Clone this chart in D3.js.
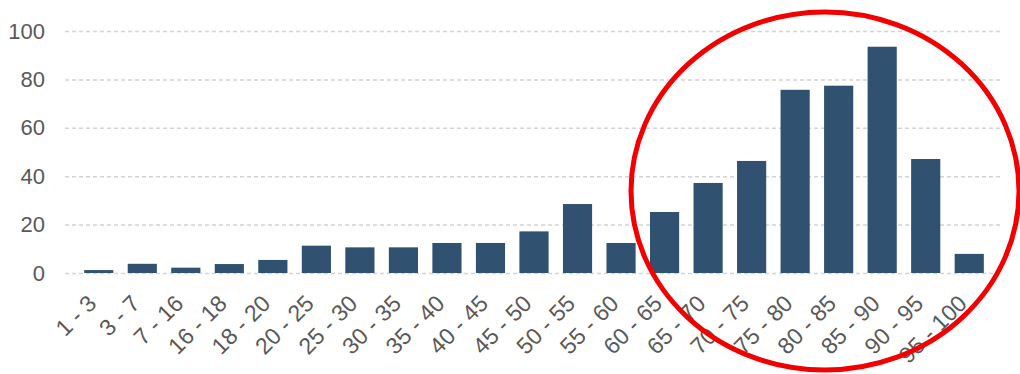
<!DOCTYPE html>
<html>
<head>
<meta charset="utf-8">
<script src="https://cdn.jsdelivr.net/npm/d3@7"></script>
<style>
  body { margin: 0; background: #fff; }
  svg text { font-family: "Liberation Sans", Arial, sans-serif; fill: #595959; }
</style>
</head>
<body>
<div id="chart"><svg width="1020" height="374"></svg></div>
<script>
// categories and values
const categories = ["1 - 3", "3 - 7", "7 - 16", "16 - 18", "18 - 20", "20 - 25", "25 - 30",
    "30 - 35", "35 - 40", "40 - 45", "45 - 50", "50 - 55", "55 - 60", "60 - 65", "65 - 70",
    "70 - 75", "75 - 80", "80 - 85", "85 - 90", "90 - 95", "95 - 100"];
const counts = [1.2, 3.8, 2.2, 3.7, 5.4, 11.3, 10.6, 10.6, 12.4, 12.4, 17.2, 28.5, 12.4,
    25.2, 37.2, 46.3, 75.7, 77.4, 93.5, 47.1, 7.9];
const yTicks = [0, 20, 40, 60, 80, 100];

function chart() {
    let svg = d3.select("#chart svg");

    let x = d3.scaleBand()
        .domain(categories)
        .range([77, 991])
        .paddingInner(0.33)
        .paddingOuter(0.165);

    let y = d3.scaleLinear()
        .domain([0, 100])
        .range([273, 31]);

    let gridLeft = 65, gridRight = 1003;

    // y axis: labels + dashed gridlines
    let yAxis = svg.append("g")
        .attr("transform", `translate(${gridLeft},0)`)
        .call(d3.axisLeft(y).tickValues(yTicks).tickSize(-(gridRight - gridLeft)).tickPadding(20));
    yAxis.select(".domain").remove();
    yAxis.selectAll(".tick line")
        .attr("stroke", "#d4d4d4")
        .attr("stroke-width", 1.5)
        .attr("stroke-dasharray", "4,3");
    yAxis.selectAll(".tick text")
        .attr("font-size", 22)
        .attr("fill", "#595959");

    // bars
    svg.selectAll("rect.bar")
        .data(counts)
        .enter()
        .append("rect")
        .attr("class", "bar")
        .attr("x", (d, i) => x(categories[i]))
        .attr("y", d => y(d))
        .attr("width", x.bandwidth())
        .attr("height", d => y(0) - y(d))
        .attr("fill", "#30516f");

    // x labels, rotated
    svg.append("g")
        .selectAll("text")
        .data(categories)
        .enter()
        .append("text")
        .attr("transform", d => `translate(${x(d) + x.bandwidth() / 2 - 1},305) rotate(-45)`)
        .attr("text-anchor", "end")
        .attr("font-size", 23)
        .text(d => d);

    // red circle drawn on top
    svg.append("ellipse")
        .attr("cx", 825)
        .attr("cy", 191)
        .attr("rx", 194)
        .attr("ry", 179)
        .attr("fill", "none")
        .attr("stroke", "#f20000")
        .attr("stroke-width", 5);
}

chart();
</script>
</body>
</html>
